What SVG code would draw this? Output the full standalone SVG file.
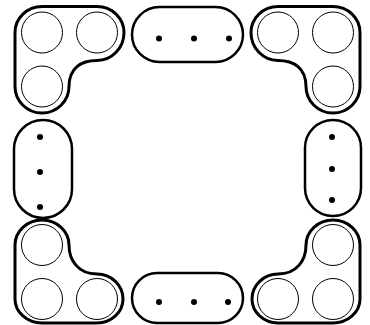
<svg xmlns="http://www.w3.org/2000/svg" width="370" height="325" viewBox="0 0 370 325">
<style>
.outer{fill:none;stroke:#000;stroke-width:3;stroke-linejoin:round}
.pill{fill:none;stroke:#000;stroke-width:2.5}
.c{fill:none;stroke:#000;stroke-width:1}
.d{fill:#000;stroke:none}
</style>
<rect width="370" height="325" fill="#fff"/>
<g id="corner-tl">
<path class="outer" d="M15,32.5 A27,26 0 0 1 42,6.5 L97,6.5 A27,26 0 0 1 124,32.5 A27,28 0 0 1 97,60.5 C81,60.5 69,68 69,86.5 A27,26.5 0 0 1 42,113 A27,26.5 0 0 1 15,86.5 Z"/>
<circle class="c" cx="42" cy="32.5" r="20.5"/>
<circle class="c" cx="97" cy="32.5" r="20.5"/>
<circle class="c" cx="42" cy="86.5" r="20.5"/>
</g>
<g id="corner-tr">
<path class="outer" d="M360,32.5 A27,26 0 0 0 333,6.5 L278,6.5 A27,26 0 0 0 251,32.5 A27,28 0 0 0 278,60.5 C294,60.5 306,68 306,86.5 A27,26.5 0 0 0 333,113 A27,26.5 0 0 0 360,86.5 Z"/>
<circle class="c" cx="333" cy="32.5" r="20.5"/>
<circle class="c" cx="278" cy="32.5" r="20.5"/>
<circle class="c" cx="333" cy="86.5" r="20.5"/>
</g>
<g id="corner-bl">
<path class="outer" d="M15,245 A27,25 0 0 1 69,245 C69,260 78,274 97,274 A26,25 0 0 1 123,299 A26,24 0 0 1 97,323 L42,323 A27,24 0 0 1 15,299 Z"/>
<circle class="c" cx="42" cy="245" r="20.5"/>
<circle class="c" cx="42" cy="299" r="20.5"/>
<circle class="c" cx="97" cy="299" r="20.5"/>
</g>
<g id="corner-br">
<path class="outer" d="M360,245 A27,25 0 0 0 306,245 C306,260 297,274 278,274 A26,25 0 0 0 252,299 A26,24 0 0 0 278,323 L333,323 A27,24 0 0 0 360,299 Z"/>
<circle class="c" cx="333" cy="245" r="20.5"/>
<circle class="c" cx="333" cy="299" r="20.5"/>
<circle class="c" cx="278" cy="299" r="20.5"/>
</g>
<g id="pill-top">
<rect class="pill" x="132" y="7" width="111" height="55" rx="27.5"/>
<circle class="d" cx="159" cy="38.5" r="3"/>
<circle class="d" cx="194" cy="38.5" r="3"/>
<circle class="d" cx="229" cy="38.5" r="3"/>
</g>
<g id="pill-bottom">
<rect class="pill" x="132" y="273" width="111" height="50" rx="25"/>
<circle class="d" cx="159" cy="302" r="3"/>
<circle class="d" cx="194" cy="302" r="3"/>
<circle class="d" cx="228" cy="302" r="3"/>
</g>
<g id="pill-left">
<rect class="pill" x="14" y="120" width="58" height="98" rx="29"/>
<circle class="d" cx="40" cy="137" r="3"/>
<circle class="d" cx="40" cy="172" r="3"/>
<circle class="d" cx="40" cy="207" r="3"/>
</g>
<g id="pill-right">
<rect class="pill" x="305" y="120" width="56" height="96" rx="28"/>
<circle class="d" cx="332" cy="137" r="3"/>
<circle class="d" cx="332" cy="169" r="3"/>
<circle class="d" cx="332" cy="200" r="3"/>
</g>
</svg>
